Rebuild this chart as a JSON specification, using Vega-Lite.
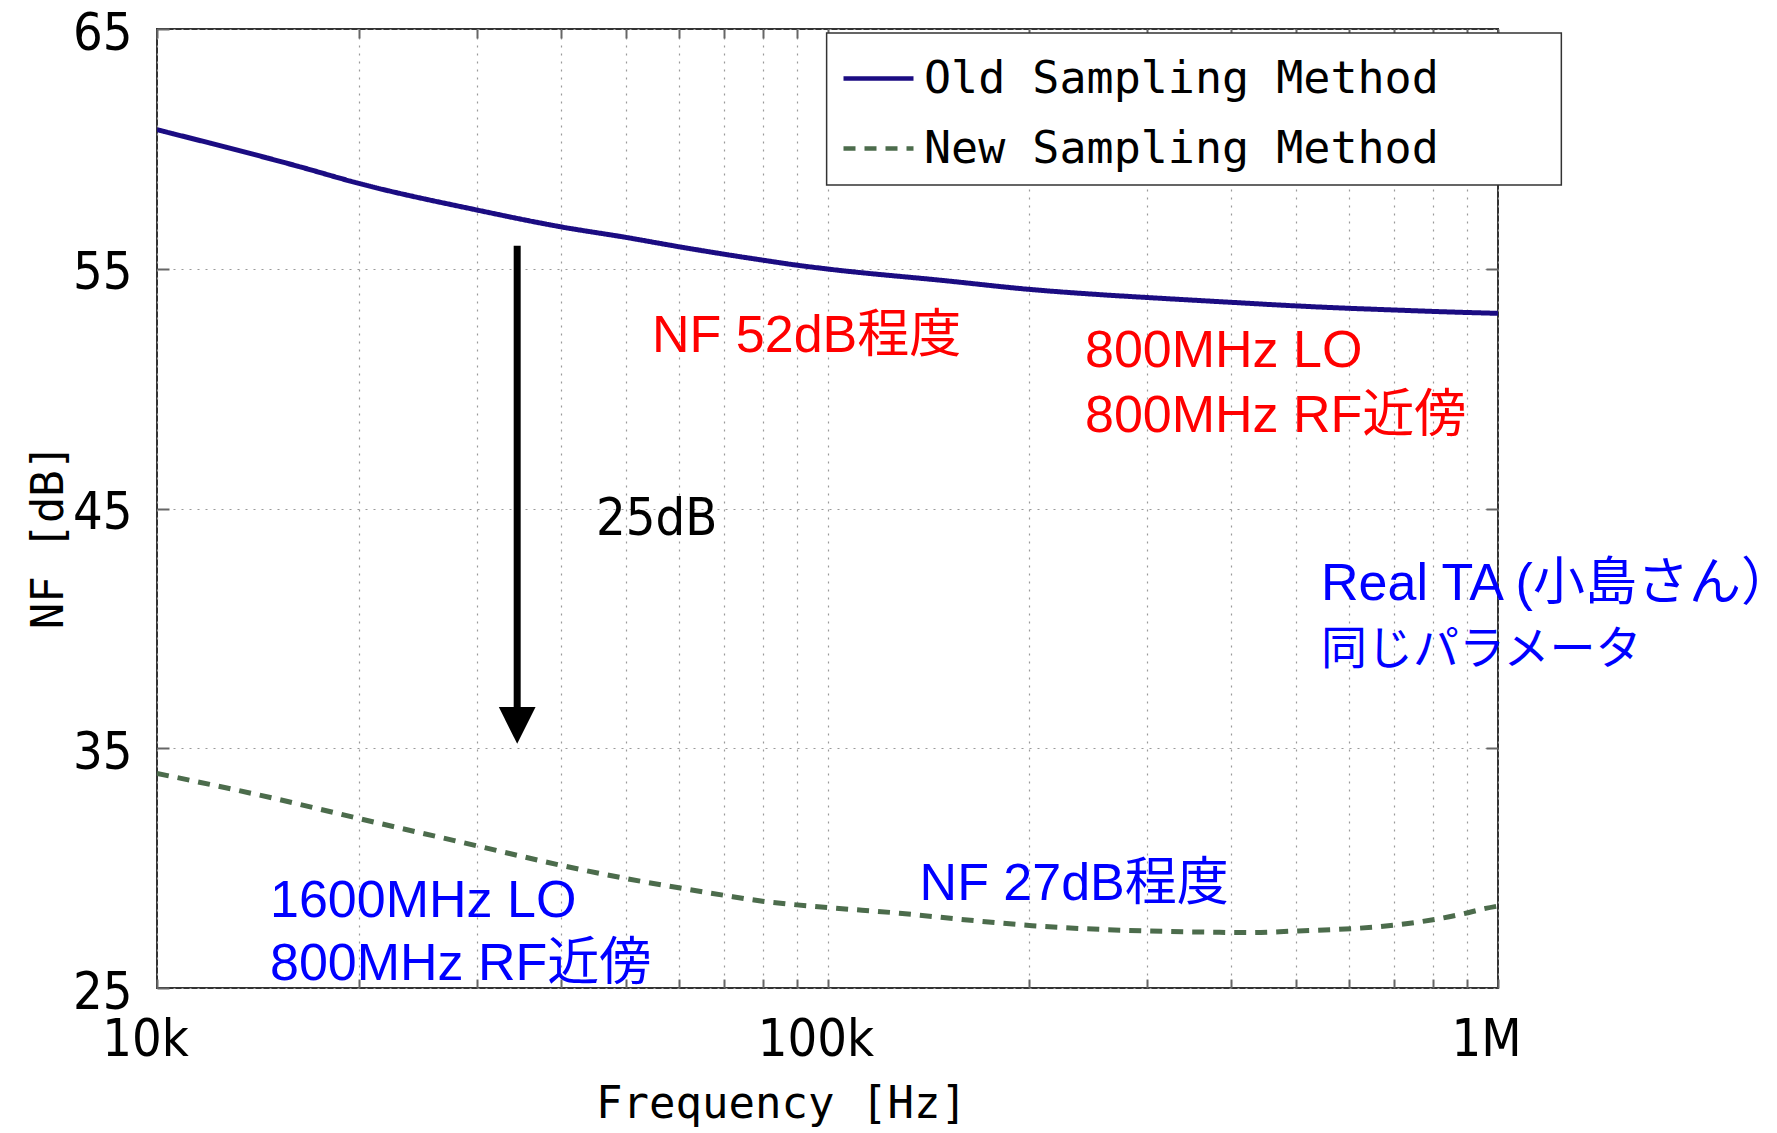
{
  "$schema": "https://vega.github.io/schema/vega-lite/v6.json",
  "width": 1341,
  "height": 959,
  "autosize": {"type": "none"},
  "padding": {"left": 157, "top": 29, "right": 279, "bottom": 145},
  "background": "white",
  "config": {"view": {"stroke": "#333333", "strokeWidth": 2}},
  "datasets": {
    "curves": [
      {"series": "Old Sampling Method", "f": 10000, "nf": 60.8},
      {"series": "Old Sampling Method", "f": 16300, "nf": 59.26},
      {"series": "Old Sampling Method", "f": 20000, "nf": 58.56},
      {"series": "Old Sampling Method", "f": 30000, "nf": 57.45},
      {"series": "Old Sampling Method", "f": 40000, "nf": 56.75},
      {"series": "Old Sampling Method", "f": 50000, "nf": 56.31},
      {"series": "Old Sampling Method", "f": 60000, "nf": 55.92},
      {"series": "Old Sampling Method", "f": 70000, "nf": 55.61},
      {"series": "Old Sampling Method", "f": 80000, "nf": 55.36},
      {"series": "Old Sampling Method", "f": 90000, "nf": 55.15},
      {"series": "Old Sampling Method", "f": 100000, "nf": 54.99},
      {"series": "Old Sampling Method", "f": 150000, "nf": 54.5},
      {"series": "Old Sampling Method", "f": 200000, "nf": 54.14},
      {"series": "Old Sampling Method", "f": 255000, "nf": 53.92},
      {"series": "Old Sampling Method", "f": 300000, "nf": 53.8},
      {"series": "Old Sampling Method", "f": 400000, "nf": 53.6},
      {"series": "Old Sampling Method", "f": 500000, "nf": 53.45},
      {"series": "Old Sampling Method", "f": 600000, "nf": 53.35},
      {"series": "Old Sampling Method", "f": 700000, "nf": 53.28},
      {"series": "Old Sampling Method", "f": 800000, "nf": 53.22},
      {"series": "Old Sampling Method", "f": 1000000, "nf": 53.14},
      {"series": "New Sampling Method", "f": 10000, "nf": 33.95},
      {"series": "New Sampling Method", "f": 15000, "nf": 32.9},
      {"series": "New Sampling Method", "f": 20000, "nf": 32.07},
      {"series": "New Sampling Method", "f": 30000, "nf": 30.93},
      {"series": "New Sampling Method", "f": 40000, "nf": 30.12},
      {"series": "New Sampling Method", "f": 50000, "nf": 29.57},
      {"series": "New Sampling Method", "f": 60000, "nf": 29.18},
      {"series": "New Sampling Method", "f": 70000, "nf": 28.87},
      {"series": "New Sampling Method", "f": 80000, "nf": 28.62},
      {"series": "New Sampling Method", "f": 100000, "nf": 28.36},
      {"series": "New Sampling Method", "f": 128000, "nf": 28.12},
      {"series": "New Sampling Method", "f": 160000, "nf": 27.85},
      {"series": "New Sampling Method", "f": 202000, "nf": 27.6},
      {"series": "New Sampling Method", "f": 275000, "nf": 27.41},
      {"series": "New Sampling Method", "f": 367000, "nf": 27.33},
      {"series": "New Sampling Method", "f": 428000, "nf": 27.31},
      {"series": "New Sampling Method", "f": 494000, "nf": 27.37},
      {"series": "New Sampling Method", "f": 571000, "nf": 27.44},
      {"series": "New Sampling Method", "f": 666000, "nf": 27.56},
      {"series": "New Sampling Method", "f": 769000, "nf": 27.77},
      {"series": "New Sampling Method", "f": 889000, "nf": 28.1},
      {"series": "New Sampling Method", "f": 958000, "nf": 28.32},
      {"series": "New Sampling Method", "f": 1000000, "nf": 28.42}
    ],
    "notes": [
      {"label": "NF 52dB程度", "method": "old", "f": 54740, "nf": 51.54},
      {"label": "800MHz LO", "method": "old", "f": 242100, "nf": 50.91},
      {"label": "800MHz RF近傍", "method": "old", "f": 242100, "nf": 48.2},
      {"label": "25dB", "method": "diff", "f": 45160, "nf": 43.89},
      {"label": "Real TA (小島さん）", "method": "new", "f": 544500, "nf": 41.18},
      {"label": "同じパラメータ", "method": "newkana", "f": 544500, "nf": 38.51},
      {"label": "1600MHz LO", "method": "new", "f": 14740, "nf": 27.97},
      {"label": "800MHz RF近傍", "method": "new", "f": 14740, "nf": 25.33},
      {"label": "NF 27dB程度", "method": "new", "f": 137200, "nf": 28.66}
    ],
    "arrow": [{"f": 34450, "top": 55.96, "bottom": 36.5, "head": 35.95}],
    "legendbox": [{"f1": 99700, "f2": 1243000, "nf1": 64.83, "nf2": 58.49}]
  },
  "resolve": {"axis": {"x": "independent", "y": "independent"}},
  "layer": [
    {
      "data": {"name": "curves"},
      "mark": {"type": "line", "strokeWidth": 5, "interpolate": "monotone", "clip": true},
      "encoding": {
        "x": {
          "field": "f", "type": "quantitative",
          "scale": {"type": "log", "domain": [10000, 1000000], "nice": false},
          "axis": {
            "orient": "bottom",
            "values": [10000, 20000, 30000, 40000, 50000, 60000, 70000, 80000, 90000, 100000, 200000, 300000, 400000, 500000, 600000, 700000, 800000, 900000, 1000000],
            "labelExpr": "datum.value == 10000 ? '10k' : datum.value == 100000 ? '100k' : datum.value == 1000000 ? '1M' : ''",
            "grid": true, "gridColor": "#9a9a9a", "gridDash": [2, 6], "gridWidth": 1.2,
            "domain": false, "ticks": true, "tickSize": -9, "tickColor": "#666666", "tickWidth": 2,
            "labelFont": "Liberation Sans Narrow, DejaVu Sans Condensed, sans-serif",
            "labelFontSize": 52, "labelColor": "black", "labelPadding": 35, "labelOffset": -12,
            "labelBaseline": "top", "labelOverlap": false, "labelBound": false, "labelFlush": false,
            "title": "Frequency [Hz]", "titleFont": "DejaVu Sans Mono", "titleFontSize": 44,
            "titleFontWeight": "normal", "titleColor": "black", "titleX": 624, "titleY": 129,
            "titleBaseline": "alphabetic", "titleAlign": "center"
          }
        },
        "y": {
          "field": "nf", "type": "quantitative",
          "scale": {"domain": [25, 65], "nice": false, "zero": false},
          "axis": {
            "orient": "left",
            "values": [25, 35, 45, 55, 65],
            "grid": true, "gridColor": "#9a9a9a", "gridDash": [2, 6], "gridWidth": 1.2,
            "domain": false, "ticks": true, "tickSize": -12, "tickColor": "#666666", "tickWidth": 2,
            "labelFont": "Liberation Sans Narrow, DejaVu Sans Condensed, sans-serif",
            "labelFontSize": 52, "labelColor": "black", "labelPadding": 37, "labelOffset": 4,
            "labelBaseline": "middle", "labelOverlap": false, "labelBound": false, "labelFlush": false,
            "title": "NF [dB]", "titleFont": "DejaVu Sans Mono", "titleFontSize": 44,
            "titleFontWeight": "normal", "titleColor": "black", "titleX": -95, "titleY": 507,
            "titleBaseline": "alphabetic", "titleAlign": "center", "titleAngle": 270
          }
        },
        "color": {
          "field": "series", "type": "nominal",
          "scale": {"domain": ["Old Sampling Method", "New Sampling Method"], "range": ["#1B0C82", "#4C6C4C"]},
          "legend": {
            "orient": "none", "legendX": 684, "legendY": 12, "title": null,
            "symbolType": "stroke", "symbolSize": 4900, "symbolStrokeWidth": 4.5,
            "labelFont": "DejaVu Sans Mono", "labelFontSize": 45, "labelColor": "black",
            "labelOffset": 8, "rowPadding": 9, "padding": 0, "labelLimit": 1000
          }
        },
        "strokeDash": {
          "field": "series", "type": "nominal",
          "scale": {"domain": ["Old Sampling Method", "New Sampling Method"], "range": [[1, 0], [12, 9]]},
          "legend": {
            "orient": "none", "legendX": 684, "legendY": 12, "title": null,
            "symbolType": "stroke", "symbolSize": 4900, "symbolStrokeWidth": 4.5,
            "labelFont": "DejaVu Sans Mono", "labelFontSize": 45, "labelColor": "black",
            "labelOffset": 8, "rowPadding": 9, "padding": 0, "labelLimit": 1000
          }
        }
      }
    },
    {
      "data": {"name": "legendbox"},
      "mark": {"type": "rect", "fill": "white", "stroke": "#333333", "strokeWidth": 1.5},
      "encoding": {
        "x": {"field": "f1", "type": "quantitative", "axis": null},
        "x2": {"field": "f2"},
        "y": {"field": "nf1", "type": "quantitative", "axis": null},
        "y2": {"field": "nf2"}
      }
    },
    {
      "data": {"name": "arrow"},
      "mark": {"type": "rule", "color": "black", "strokeWidth": 7},
      "encoding": {
        "x": {"field": "f", "type": "quantitative", "axis": null},
        "y": {"field": "top", "type": "quantitative", "axis": null},
        "y2": {"field": "bottom"}
      }
    },
    {
      "data": {"name": "arrow"},
      "mark": {"type": "point", "shape": "M-1,-1L1,-1L0,1Z", "size": 1347, "filled": true, "color": "black", "opacity": 1},
      "encoding": {
        "x": {"field": "f", "type": "quantitative", "axis": null},
        "y": {"field": "head", "type": "quantitative", "axis": null}
      }
    },
    {
      "data": {"name": "notes"},
      "transform": [{"filter": "datum.method == 'old'"}],
      "mark": {"type": "text", "align": "left", "baseline": "alphabetic", "font": "Liberation Sans, Arial, Noto Sans CJK JP, sans-serif", "fontSize": 52, "color": "#FF0000"},
      "encoding": {
        "x": {"field": "f", "type": "quantitative", "axis": null},
        "y": {"field": "nf", "type": "quantitative", "axis": null},
        "text": {"field": "label"}
      }
    },
    {
      "data": {"name": "notes"},
      "transform": [{"filter": "datum.method == 'new'"}],
      "mark": {"type": "text", "align": "left", "baseline": "alphabetic", "font": "Liberation Sans, Arial, Noto Sans CJK JP, sans-serif", "fontSize": 52, "color": "#0000FF"},
      "encoding": {
        "x": {"field": "f", "type": "quantitative", "axis": null},
        "y": {"field": "nf", "type": "quantitative", "axis": null},
        "text": {"field": "label"}
      }
    },
    {
      "data": {"name": "notes"},
      "transform": [{"filter": "datum.method == 'newkana'"}],
      "mark": {"type": "text", "align": "left", "baseline": "alphabetic", "font": "Liberation Sans, Arial, Noto Sans CJK JP, sans-serif", "fontSize": 46, "color": "#0000FF"},
      "encoding": {
        "x": {"field": "f", "type": "quantitative", "axis": null},
        "y": {"field": "nf", "type": "quantitative", "axis": null},
        "text": {"field": "label"}
      }
    },
    {
      "data": {"name": "notes"},
      "transform": [{"filter": "datum.method == 'diff'"}],
      "mark": {"type": "text", "align": "left", "baseline": "alphabetic", "font": "Liberation Sans Narrow, DejaVu Sans Condensed, sans-serif", "fontSize": 52, "color": "black"},
      "encoding": {
        "x": {"field": "f", "type": "quantitative", "axis": null},
        "y": {"field": "nf", "type": "quantitative", "axis": null},
        "text": {"field": "label"}
      }
    },
    {
      "data": {"name": "curves"},
      "mark": {"type": "point", "opacity": 0},
      "encoding": {
        "x": {
          "field": "f", "type": "quantitative",
          "axis": {
            "orient": "top",
            "values": [10000, 20000, 30000, 40000, 50000, 60000, 70000, 80000, 90000, 100000, 200000, 300000, 400000, 500000, 600000, 700000, 800000, 900000, 1000000],
            "labels": false, "grid": false, "domain": false, "tickSize": -9, "tickColor": "#666666", "tickWidth": 2, "title": null
          }
        },
        "y": {
          "field": "nf", "type": "quantitative",
          "axis": {
            "orient": "right", "values": [35, 45, 55],
            "labels": false, "grid": false, "domain": false, "tickSize": -12, "tickColor": "#666666", "tickWidth": 2, "title": null
          }
        }
      }
    }
  ]
}
